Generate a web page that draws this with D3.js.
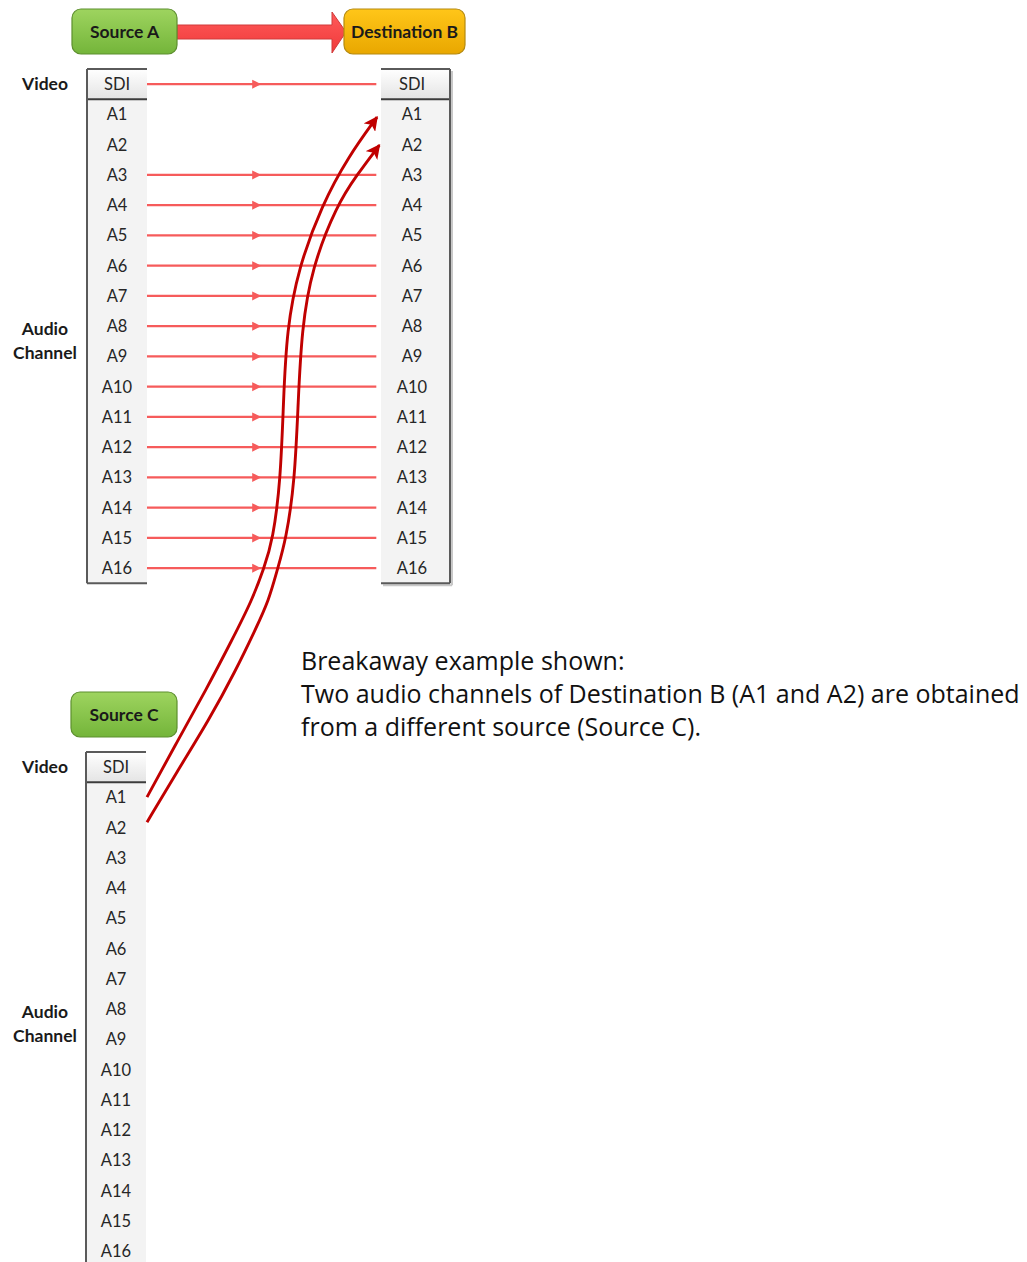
<!DOCTYPE html>
<html><head><meta charset="utf-8">
<script src="https://cdn.jsdelivr.net/npm/d3@7"></script>
<style>html,body{margin:0;padding:0;background:#fff;}svg{display:block;}</style>
</head><body>
<script>
// ---------- data ----------
const channels = ["SDI","A1","A2","A3","A4","A5","A6","A7","A8","A9","A10","A11","A12","A13","A14","A15","A16"];
const boxLabels = ["Source A","Destination B","Source C"];
const sideLabels = ["Video","Audio","Channel"];
// rows of Source A routed straight to Destination B
const straightRoutes = ["SDI","A3","A4","A5","A6","A7","A8","A9","A10","A11","A12","A13","A14","A15","A16"];
// breakaway routes Source C -> Destination B (waypoints: [percent across gap, row units])
const breakawayFrom = ["A1","A2"];
const breakawayTo = ["A1","A2"];
const curveA1 = [[0,23.57],[13.2,21.69],[25.2,20.03],[36.3,18.38],[44.9,17.06],[50,16.0],[53.8,15.07],[57.1,13.09],[58.3,10.5],[59.7,8.13],[64.7,6.08],[74.7,4.0],[86,2.4],[98.3,1.09]];
const curveA2 = [[0,24.4],[13.2,22.68],[26.5,21.02],[38.0,19.37],[46.2,18.05],[52.1,17.06],[55.6,16.07],[59.4,15.07],[63.2,13.09],[64.6,10.5],[66.1,8.13],[70.4,6.08],[81.1,4.0],[89.6,3.01],[99.3,2.02]];
const noteLines = ["Breakaway example shown:","Two audio channels of Destination B (A1 and A2) are obtained","from a different source (Source C)."];

// ---------- layout ----------
const W = 1027, H = 1262;
const svg = d3.select("body").append("svg").attr("width", W).attr("height", H);
const defs = svg.append("defs");

const rowH = 30.25;
const yRow = d3.scaleLinear().domain([0,16]).range([84.125, 84.125 + 16*rowH]);
const cOffset = 22.58; // Source C table row offset
const xGap = d3.scaleLinear().domain([0,100]).range([147, 381]);
const chIdx = d3.scaleOrdinal().domain(channels).range(d3.range(channels.length));

const font = "Lato, 'Open Sans', sans-serif";

function lg(id, stops){
  const g = defs.append("linearGradient").attr("id", id).attr("x1",0).attr("y1",0).attr("x2",0).attr("y2",1);
  stops.forEach(s=>g.append("stop").attr("offset",s[0]).attr("stop-color",s[1]));
}
lg("gGreen", [[0,"#9ed45f"],[1,"#74b53a"]]);
lg("gOrange", [[0,"#ffc619"],[1,"#e9a700"]]);
lg("gRed", [[0,"#ff5a5a"],[1,"#f03a3a"]]);
lg("gSdi", [[0,"#ffffff"],[1,"#e4e4e4"]]);

defs.append("marker").attr("id","mDark").attr("viewBox","0 0 10 10").attr("refX",9).attr("refY",5)
  .attr("markerWidth",5).attr("markerHeight",5).attr("orient","auto").attr("markerUnits","strokeWidth")
  .append("path").attr("d","M0,0 L10,5 L0,10 L2.5,5 Z").attr("fill","#c00000");

// ---------- tables ----------
function table(x, w, rowOffset, side, labelCx){
  const g = svg.append("g");
  const top = yRow(rowOffset - 0.5);
  const bottom = yRow(rowOffset + 16.5);
  g.append("rect").attr("x",x).attr("y",top).attr("width",w).attr("height",rowH).attr("fill","url(#gSdi)");
  g.append("rect").attr("x",x).attr("y",top+rowH).attr("width",w).attr("height",bottom-top-rowH).attr("fill","#f3f3f3");
  g.selectAll("text").data(channels).join("text")
    .attr("x", labelCx).attr("y", d=>yRow(chIdx(d)+rowOffset)).attr("dy","0.36em")
    .attr("text-anchor","middle").attr("font-family",font).attr("font-size",16.5).attr("fill","#262626")
    .text(d=>d);
  const line=(x1,y1,x2,y2,c,sw)=>g.append("line").attr("x1",x1).attr("y1",y1).attr("x2",x2).attr("y2",y2)
      .attr("stroke",c||"#5a5a5a").attr("stroke-width",sw||2);
  line(x, top+rowH, x+w, top+rowH, "#3c3c3c", 2);
  line(x, top, x+w, top);
  if (side==="left"){
    line(x, top, x, bottom);
    line(x, bottom, x+w, bottom);
  } else {
    g.append("line").attr("x1",x+w+2).attr("y1",top+2).attr("x2",x+w+2).attr("y2",bottom+2).attr("stroke","#c8c8c8").attr("stroke-width",2);
    g.append("line").attr("x1",x+2).attr("y1",bottom+2).attr("x2",x+w+2).attr("y2",bottom+2).attr("stroke","#c8c8c8").attr("stroke-width",2);
    line(x+w, top, x+w, bottom);
    line(x, bottom, x+w, bottom);
  }
}
table(87, 60, 0, "left", 117);
table(381, 69, 0, "right", 412);
table(86, 60, cOffset, "left", 116);

// ---------- side labels ----------
function side(rowOffset){
  [[0,0],[1,8.1],[2,8.87]].forEach(([i,r])=>{
    svg.append("text").attr("x",45).attr("y",yRow(rowOffset+r)).attr("dy","0.36em").attr("text-anchor","middle")
      .attr("font-family",font).attr("font-weight","bold").attr("font-size",17.5).attr("fill","#1a1a1a").text(sideLabels[i]);
  });
}
side(0);
side(cOffset);

// ---------- straight routes ----------
const rg = svg.append("g");
straightRoutes.forEach(ch=>{
  const y = yRow(chIdx(ch));
  rg.append("line").attr("x1",xGap(0)).attr("y1",y).attr("x2",xGap(98)).attr("y2",y)
    .attr("stroke","#f65b5b").attr("stroke-width",2.4);
  const ax = xGap(48.8);
  rg.append("path").attr("d",`M${ax-9},${y-4.5} L${ax},${y} L${ax-9},${y+4.5} Z`).attr("fill","#f65b5b");
});

// ---------- breakaway curves ----------
const curveLine = d3.line().x(d=>xGap(d[0])).y(d=>yRow(d[1])).curve(d3.curveBasis);
[curveA1, curveA2].forEach(pts=>{
  svg.append("path").attr("d",curveLine(pts)).attr("fill","none").attr("stroke","#c00000")
    .attr("stroke-width",2.9).attr("marker-end","url(#mDark)");
});

// ---------- header boxes ----------
const ay = 32;
svg.append("path").attr("d",`M177,${ay-7} L332,${ay-7} L332,${ay-20} L346,${ay} L332,${ay+21} L332,${ay+7} L177,${ay+7} Z`)
  .attr("fill","url(#gRed)").attr("stroke","#d03a3a").attr("stroke-width",1);

function box(x,y,w,h,fill,stroke,label){
  svg.append("rect").attr("x",x).attr("y",y).attr("width",w).attr("height",h).attr("rx",9)
    .attr("fill",fill).attr("stroke",stroke).attr("stroke-width",1.2);
  svg.append("text").attr("x",x+w/2).attr("y",y+h/2).attr("dy","0.36em").attr("text-anchor","middle")
    .attr("font-family",font).attr("font-weight","bold").attr("font-size",17.5).attr("fill","#1a1a1a").text(label);
}
box(72,9,105,45,"url(#gGreen)","#5d8f2e",boxLabels[0]);
box(344,9,121,45,"url(#gOrange)","#b58a10",boxLabels[1]);
box(71,692,106,45,"url(#gGreen)","#5d8f2e",boxLabels[2]);

// ---------- note ----------
svg.selectAll("text.note").data(noteLines).join("text").attr("class","note")
  .attr("x",301).attr("y",(d,i)=>661+i*33).attr("dy","0.36em")
  .attr("font-family","'Open Sans', sans-serif").attr("font-size",25).attr("fill","#111").text(d=>d);
</script>
</body></html>
